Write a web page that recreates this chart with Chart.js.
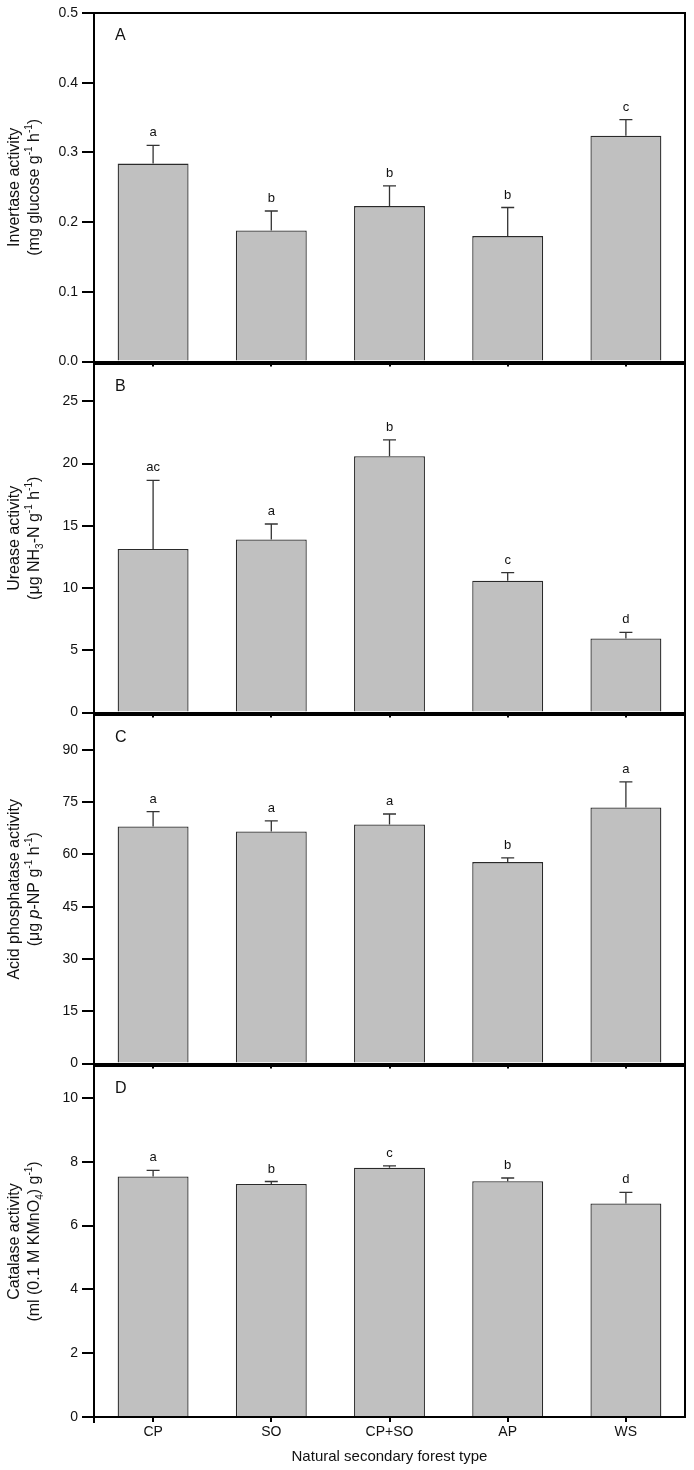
<!DOCTYPE html>
<html>
<head>
<meta charset="utf-8">
<script src="https://cdn.jsdelivr.net/npm/chart.js@4.4.1/dist/chart.umd.min.js"></script>
<style>
  body { margin: 0; background: #fff; }
  #wrap { position: relative; width: 694px; height: 1470px; }
  #wrap canvas { position: absolute; left: 0; }
</style>
</head>
<body>
<div id="wrap">
  <canvas id="panelA" width="694" height="374" style="top:0px"></canvas>
  <canvas id="panelB" width="694" height="374" style="top:351px"></canvas>
  <canvas id="panelC" width="694" height="374" style="top:702px"></canvas>
  <canvas id="panelD" width="694" height="417" style="top:1053px"></canvas>
</div>
<script>
// DATOS

const categories = ['CP', 'SO', 'CP+SO', 'AP', 'WS'];

const invertase = [0.284, 0.188, 0.223, 0.180, 0.324];
const invertaseSD = [0.026, 0.028, 0.029, 0.041, 0.023];
const invertaseLetters = ['a', 'b', 'b', 'b', 'c'];
const invertaseTicks = [0, 0.5, 0.1];   // min, max, paso

const urease = [13.15, 13.9, 20.6, 10.6, 5.95];
const ureaseSD = [5.5, 1.25, 1.3, 0.65, 0.5];
const ureaseLetters = ['ac', 'a', 'b', 'c', 'd'];
const ureaseTicks = [0, 28, 5];

const phosphatase = [68.0, 66.6, 68.6, 57.8, 73.5];
const phosphataseSD = [4.3, 3.0, 3.0, 1.2, 7.3];
const phosphataseLetters = ['a', 'a', 'a', 'b', 'a'];
const phosphataseTicks = [0, 100, 15];

const catalase = [7.54, 7.30, 7.81, 7.39, 6.69];
const catalaseSD = [0.19, 0.08, 0.06, 0.10, 0.35];
const catalaseLetters = ['a', 'b', 'c', 'b', 'd'];
const catalaseTicks = [0, 11, 2];

const FONT = '"Liberation Sans", Arial, sans-serif';
Chart.defaults.font.family = FONT;
Chart.defaults.color = '#111';


// TEXTO CON SUBINDICES / SUPERINDICES (titulo eje y girado)

function drawRich(ctx, parts, cx, cy, size) {
    ctx.save();
    ctx.translate(cx, cy);
    ctx.rotate(-Math.PI / 2);
    ctx.textBaseline = 'middle';
    ctx.textAlign = 'left';
    const fontOf = p => (p.i ? 'italic ' : '') + ((p.sup || p.sub) ? Math.round(size * 0.65) : size) + 'px ' + FONT;
    let total = 0;
    parts.forEach(p => { ctx.font = fontOf(p); total += ctx.measureText(p.t).width; });
    let x = -total / 2;
    parts.forEach(p => {
        ctx.font = fontOf(p);
        let dy = 0;
        if (p.sup) dy = -size * 0.35;
        if (p.sub) dy = size * 0.3;
        ctx.fillText(p.t, x, dy);
        x += ctx.measureText(p.t).width;
    });
    ctx.restore();
}


// PLUGIN: barras de error, letras, marco, titulos

const extras = {
    id: 'extras',
    afterDatasetsDraw(chart) {
        const o = chart.options.plugins.extras;
        const ctx = chart.ctx;
        const y = chart.scales.y;
        const meta = chart.getDatasetMeta(0);
        ctx.save();
        ctx.strokeStyle = '#333';
        ctx.lineWidth = 1.3;
        ctx.fillStyle = '#111';
        ctx.font = '13px ' + FONT;
        ctx.textAlign = 'center';
        ctx.textBaseline = 'alphabetic';
        meta.data.forEach((bar, i) => {
            const top = y.getPixelForValue(o.values[i] + o.sd[i]);
            ctx.beginPath();
            ctx.moveTo(bar.x, bar.y);
            ctx.lineTo(bar.x, top);
            ctx.moveTo(bar.x - 6.5, top);
            ctx.lineTo(bar.x + 6.5, top);
            ctx.stroke();
            ctx.fillText(o.letters[i], bar.x, top - 9);
        });
        ctx.restore();
    },
    afterDraw(chart) {
        const o = chart.options.plugins.extras;
        const ctx = chart.ctx;
        const a = chart.chartArea;
        ctx.save();
        ctx.strokeStyle = '#000';
        ctx.lineWidth = 2;
        ctx.beginPath();
        ctx.moveTo(a.left, a.top);
        ctx.lineTo(a.right, a.top);
        ctx.lineTo(a.right, a.bottom);
        ctx.stroke();
        // eje izquierdo un poco mas largo, como en el original
        ctx.beginPath();
        ctx.moveTo(a.left, a.bottom);
        ctx.lineTo(a.left, a.bottom + 6);
        ctx.stroke();

        ctx.fillStyle = '#111';
        ctx.font = '16px ' + FONT;
        ctx.textAlign = 'left';
        ctx.textBaseline = 'middle';
        ctx.fillText(o.tag, a.left + 21, a.top + 23);

        const cy = (a.top + a.bottom) / 2;
        drawRich(ctx, o.title[0], 15, cy, 16);
        drawRich(ctx, o.title[1], 35, cy, 16);
        ctx.restore();
    }
};


// GRAFICAS

function panel(id, values, sd, letters, ticks, tag, title, last) {

    const decimals = ticks[2] < 1 ? 1 : 0;

    return new Chart(document.getElementById(id), {

        type: 'bar',

        data: {
            labels: categories,
            datasets: [{
                data: values,
                backgroundColor: '#c0c0c0',
                borderColor: '#2a2a2a',
                borderWidth: 1.3,
                barPercentage: 0.6,
                categoryPercentage: 1
            }]
        },

        options: {
            responsive: false,
            animation: false,
            devicePixelRatio: 1,
            layout: { padding: { top: 13, right: 9, left: 0, bottom: 0 } },
            plugins: {
                legend: { display: false },
                tooltip: { enabled: false },
                extras: { values: values, sd: sd, letters: letters, tag: tag, title: title }
            },
            scales: {
                x: {
                    offset: true,
                    grid: { display: true, offset: false, drawOnChartArea: false, drawTicks: true, tickLength: 5, color: '#000', lineWidth: 2 },
                    border: { display: true, color: '#000', width: 2 },
                    ticks: { display: last, font: { size: 14 }, padding: 2 },
                    title: {
                        display: last,
                        text: 'Natural secondary forest type',
                        font: { size: 15 },
                        padding: { top: 4, bottom: 4 }
                    },
                    afterFit: s => { s.height = last ? 53 : 10; }
                },
                y: {
                    min: ticks[0],
                    max: ticks[1],
                    grid: { display: true, drawOnChartArea: false, drawTicks: true, tickLength: 12, color: '#000', lineWidth: 2 },
                    border: { display: true, color: '#000', width: 2 },
                    ticks: {
                        stepSize: ticks[2],
                        includeBounds: false,
                        padding: 4,
                        font: { size: 14 },
                        callback: v => v.toFixed(decimals)
                    },
                    afterFit: s => { s.width = 94; }
                }
            }
        },

        plugins: [extras]
    });
}

panel('panelA', invertase, invertaseSD, invertaseLetters, invertaseTicks, 'A', [
    [{ t: 'Invertase activity' }],
    [{ t: '(mg glucose g' }, { t: '-1', sup: true }, { t: ' h' }, { t: '-1', sup: true }, { t: ')' }]
], false);

panel('panelB', urease, ureaseSD, ureaseLetters, ureaseTicks, 'B', [
    [{ t: 'Urease activity' }],
    [{ t: '(μg NH' }, { t: '3', sub: true }, { t: '-N g' }, { t: '-1', sup: true }, { t: ' h' }, { t: '-1', sup: true }, { t: ')' }]
], false);

panel('panelC', phosphatase, phosphataseSD, phosphataseLetters, phosphataseTicks, 'C', [
    [{ t: 'Acid phosphatase activity' }],
    [{ t: '(μg ' }, { t: 'p', i: true }, { t: '-NP g' }, { t: '-1', sup: true }, { t: ' h' }, { t: '-1', sup: true }, { t: ')' }]
], false);

panel('panelD', catalase, catalaseSD, catalaseLetters, catalaseTicks, 'D', [
    [{ t: 'Catalase activity' }],
    [{ t: '(ml (0.1 M KMnO' }, { t: '4', sub: true }, { t: ') g' }, { t: '-1', sup: true }, { t: ')' }]
], true);
</script>
</body>
</html>
